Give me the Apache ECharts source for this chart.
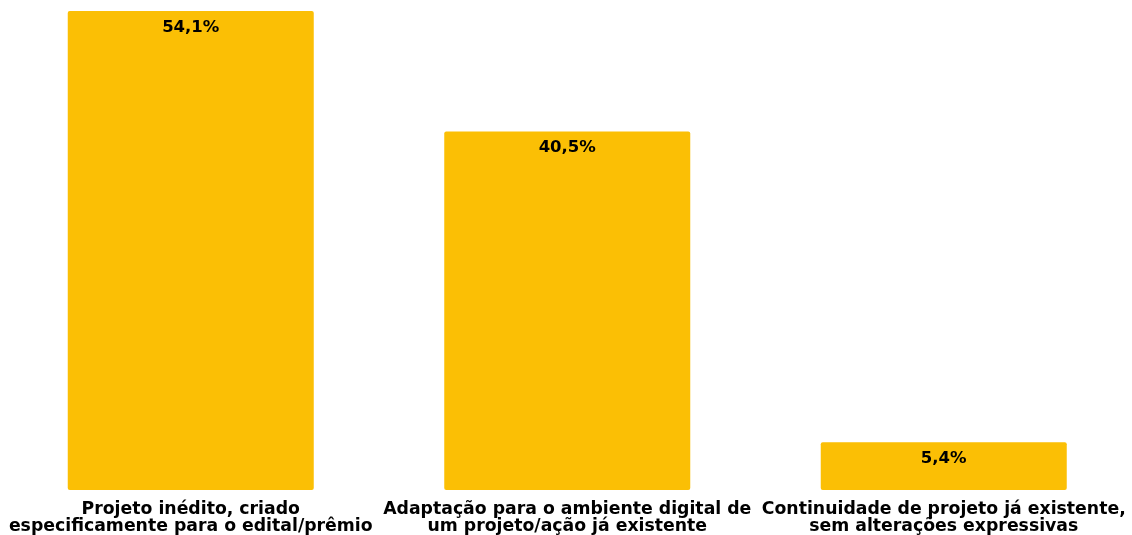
<!DOCTYPE html>
<html>
<head>
<meta charset="utf-8">
<script src="https://cdn.jsdelivr.net/npm/echarts@6/dist/echarts.min.js"></script>
<style>
  html, body { margin: 0; padding: 0; background: #ffffff; }
  #chart { width: 1132px; height: 535px; }
</style>
</head>
<body>
<div id="chart"></div>
<script>
// Origem dos projetos (percentual de respostas)
const categories = [
  'Projeto inédito, criado\nespecificamente para o edital/prêmio',
  'Adaptação para o ambiente digital de\num projeto/ação já existente',
  'Continuidade de projeto já existente,\nsem alterações expressivas'
];
const values = [54.1, 40.5, 5.4];

const chart = echarts.init(document.getElementById('chart'));
chart.setOption({
  animation: false,
  grid: { left: 2.5, width: 1133, top: 11, bottom: 45, containLabel: false },
  xAxis: {
    type: 'category',
    data: categories,
    axisLine: { show: false },
    axisTick: { show: false },
    axisLabel: {
      interval: 0,
      margin: 11,
      color: '#000000',
      fontFamily: 'DejaVu Sans, sans-serif',
      fontWeight: 'bold',
      fontSize: 17.3,
      lineHeight: 17
    }
  },
  yAxis: {
    type: 'value',
    min: 0,
    max: 'dataMax',
    show: false,
    splitLine: { show: false }
  },
  series: [{
    type: 'bar',
    data: values,
    barWidth: 246,
    itemStyle: { color: '#FBBF05', borderRadius: 2 },
    label: {
      show: true,
      position: 'insideTop',
      distance: 8,
      color: '#000000',
      fontFamily: 'DejaVu Sans, sans-serif',
      fontWeight: 'bold',
      fontSize: 16.5,
      formatter: p => p.value.toFixed(1).replace('.', ',') + '%'
    }
  }]
});
</script>
</body>
</html>
